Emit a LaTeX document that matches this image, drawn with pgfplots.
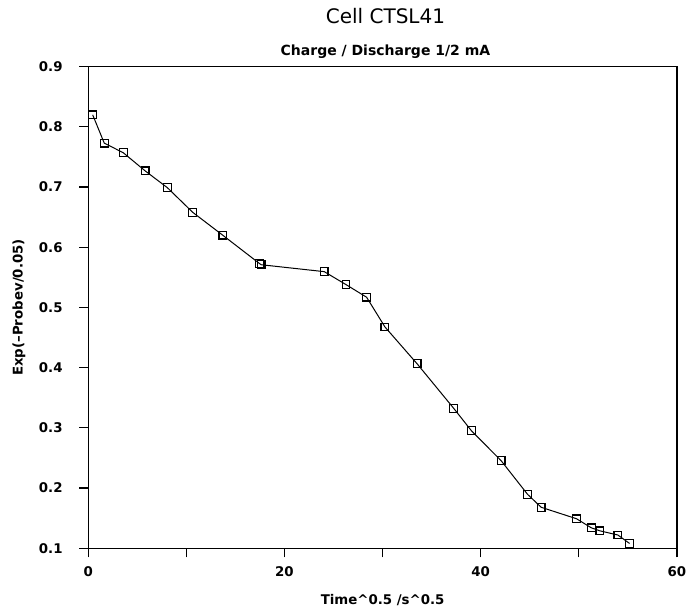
\documentclass[border=0pt]{standalone}
\usepackage{pgfplots}
\pgfplotsset{compat=1.18}
\usepackage{fontspec}
\setmainfont{DejaVu Sans}
\begin{document}
\begin{tikzpicture}
\path[use as bounding box] (-66.2pt,-46.3pt) rectangle (448.3pt,411.2pt);
\begin{axis}[
  at={(0,0)}, anchor=south west,
  scale only axis,
  width=441.5pt, height=361.2pt,
  xmin=0, xmax=60, ymin=0.1, ymax=0.9,
  xtick={0,10,20,30,40,50,60},
  xticklabels={0,,20,,40,,60},
  ytick={0.1,0.2,0.3,0.4,0.5,0.6,0.7,0.8,0.9},
  yticklabels={0.1,0.2,0.3,0.4,0.5,0.6,0.7,0.8,0.9},
  xtick pos=bottom, ytick pos=left,
  tick align=outside,
  major tick length=6.75pt,
  every tick/.style={black, line width=0.9pt},
  axis line style={line width=0.9pt},
  ticklabel style={font=\fontsize{10}{12}\selectfont\bfseries},
  yticklabel shift=9pt,
  xticklabel shift=3.5pt,
  xlabel={Time\textasciicircum 0.5 /s\textasciicircum 0.5},
  ylabel={Exp(\textendash Probev/0.05)},
  label style={font=\fontsize{10}{12}\selectfont\bfseries},
  x label style={at={(axis description cs:0.5,-0.108)}, anchor=center},
  y label style={at={(axis description cs:-0.1177,0.5)}, anchor=center, rotate=0},
  clip=false,
]
\addplot[black, line width=0.75pt, mark=square, mark size=2.9pt,
  mark options={line width=0.9pt, solid}] coordinates {
(0.45,0.820)
(1.63,0.773)
(3.57,0.757)
(5.79,0.727)
(8.06,0.699)
(10.65,0.658)
(13.71,0.620)
(17.45,0.573)
(17.62,0.571)
(24.05,0.5595)
(26.27,0.538)
(28.37,0.517)
(30.24,0.4676)
(33.51,0.4066)
(37.24,0.3326)
(39.05,0.2953)
(42.08,0.2455)
(44.77,0.1897)
(46.16,0.1681)
(49.77,0.149)
(51.27,0.134)
(52.14,0.129)
(53.98,0.122)
(55.17,0.108)
};
\end{axis}
\node[anchor=base, font=\fontsize{15}{18}\selectfont] at (222.9pt,393.2pt) {Cell CTSL41};
\node[anchor=center, font=\fontsize{10.5}{12}\selectfont\bfseries] at (222.9pt,372.5pt) {Charge / Discharge 1/2 mA};
\end{tikzpicture}
\end{document}
